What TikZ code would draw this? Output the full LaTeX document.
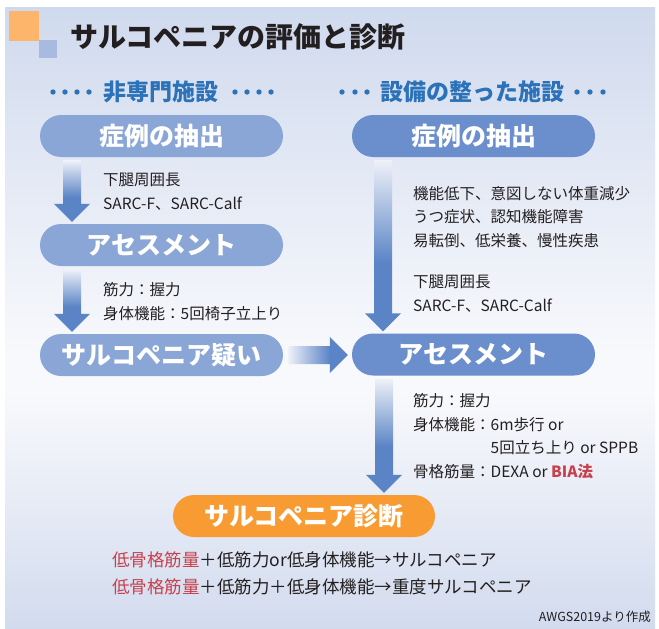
\documentclass[tikz,border=0pt]{standalone}
\usepackage{fontspec}
\setmainfont{Noto Sans CJK JP}
\usetikzlibrary{calc}

\definecolor{bgtop}{HTML}{D0DAEE}
\definecolor{bgbot}{HTML}{D2DBEE}
\definecolor{bgmid}{HTML}{F8F9FC}
\definecolor{pilllight}{HTML}{8AA6D7}
\definecolor{pilldark}{HTML}{6A8FCC}
\definecolor{arrdark}{HTML}{5A84C6}
\definecolor{arrlight}{HTML}{EEF1F8}
\definecolor{hdblue}{HTML}{2B72B8}
\definecolor{diagorange}{HTML}{F89B33}
\definecolor{alertred}{HTML}{C7414D}
\definecolor{sqorange}{HTML}{FDB56B}
\definecolor{sqblue}{HTML}{A8BAE0}
\definecolor{inkblack}{HTML}{231F20}

\pgfdeclareverticalshading{panelv}{100bp}{color(0bp)=(bgbot); color(25bp)=(bgbot); color(44bp)=(bgmid); color(47bp)=(bgmid); color(75bp)=(bgtop); color(100bp)=(bgtop)}
\pgfdeclareverticalshading{arrowv}{100bp}{color(0bp)=(arrdark); color(45bp)=(arrdark); color(75bp)=(arrlight); color(100bp)=(arrlight)}
\pgfdeclarehorizontalshading{arrowh}{100bp}{color(0bp)=(arrlight); color(25bp)=(arrlight); color(60bp)=(arrdark); color(100bp)=(arrdark)}

\tikzset{
	pill/.style={rounded corners=21pt, minimum width=243pt, minimum height=42pt, inner sep=0pt, text=white, font=\fontsize{25}{30}\selectfont\bfseries},
	note/.style={anchor=west, align=left, inner sep=0pt, text=inkblack, font=\fontsize{15.5}{23.5}\selectfont},
	header/.style={text=hdblue, font=\fontsize{23}{28}\selectfont\bfseries},
}

% block arrow going down from one node to the next
\newcommand{\downblock}[3]{%
	\shade[shading=arrowv] let \p1=(#1.south), \p2=(#2.north), \p3=(#3,0) in
		(\x3-9pt,\y1-3pt) -- (\x3+9pt,\y1-3pt) -- (\x3+9pt,\y2+20pt) -- (\x3+18pt,\y2+20pt)
		-- (\x3,\y2+2pt) -- (\x3-18pt,\y2+20pt) -- (\x3-9pt,\y2+20pt) -- cycle;}

\begin{document}
\begin{tikzpicture}[x=1pt,y=-1pt]
	\useasboundingbox (0,0) rectangle (659,629);
	\fill[white] (0,0) rectangle (659,629);
	\shade[shading=panelv] (5,7) rectangle (655,629);
	% title
	\fill[sqorange] (9,11) rectangle (39,41);
	\fill[sqblue] (39,40) rectangle (57,58);
	\node[anchor=west, inner sep=0pt, text=inkblack, font=\fontsize{28}{32}\selectfont\bfseries] (title) at (70,37) {サルコペニアの評価と診断};
	% column headers
	\node[header] (hdL) at (161,92) {非専門施設};
	\node[header] (hdR) at (472,92) {設備の整った施設};
	\foreach \x in {53,65,77,89,235,247,259,271,342,355,367,577,590,603} {
		\fill[hdblue] (\x,92) circle[radius=2.7pt];
	}
	% steps
	\node[pill, fill=pilllight] (extL) at (161.5,136) {症例の抽出};
	\node[pill, fill=pilllight] (assL) at (161.5,245) {アセスメント};
	\node[pill, fill=pilllight] (susL) at (161.5,355) {サルコペニア疑い};
	\node[pill, fill=pilldark]  (extR) at (473.5,136) {症例の抽出};
	\node[pill, fill=pilldark]  (assR) at (473.5,354.5) {アセスメント};
	\node[pill, fill=diagorange, minimum width=262pt] (diag) at (304,516) {サルコペニア診断};
	% notes beside the arrows
	\node[note] (nL1) at (103,191.5) {下腿周囲長\\SARC-F、SARC-Calf};
	\node[note] (nL2) at (103,301.5) {筋力：握力\\身体機能：5回椅子立上り};
	\node[note] (nR1) at (413,249) {機能低下、意図しない体重減少\\うつ症状、認知機能障害\\易転倒、低栄養、慢性疾患\\[18pt]下腿周囲長\\SARC-F、SARC-Calf};
	\node[note] (nR2) at (413,436) {筋力：握力\\身体機能：6m歩行 or\\\phantom{身体機能：}5回立ち上り or SPPB\\骨格筋量：DEXA or \textcolor{alertred}{\bfseries BIA法}};
	% arrows
	\downblock{extL}{assL}{72}
	\downblock{assL}{susL}{72}
	\downblock{extR}{assR}{383}
	\downblock{assR}{diag}{384}
	\shade[shading=arrowh] let \p1=(susL.east), \p2=(assR.west) in
		(\x1+5pt,\y1+9pt) -- (\x2-22pt,\y1+9pt) -- (\x2-22pt,\y1+18pt) -- (\x2-4pt,\y1)
		-- (\x2-22pt,\y1-18pt) -- (\x2-22pt,\y1-9pt) -- (\x1+5pt,\y1-9pt) -- cycle;
	% result
	\node[anchor=west, inner sep=0pt, text=inkblack, font=\fontsize{17.5}{21}\selectfont] (res1) at (112,560) {\textcolor{alertred}{低骨格筋量}＋低筋力or低身体機能→サルコペニア};
	\node[anchor=west, inner sep=0pt, text=inkblack, font=\fontsize{17.5}{21}\selectfont] (res2) at (112,587) {\textcolor{alertred}{低骨格筋量}＋低筋力＋低身体機能→重度サルコペニア};
	\node[anchor=east, inner sep=0pt, text=inkblack, font=\fontsize{12.5}{15}\selectfont] (src) at (651,617) {AWGS2019より作成};
\end{tikzpicture}
\end{document}
